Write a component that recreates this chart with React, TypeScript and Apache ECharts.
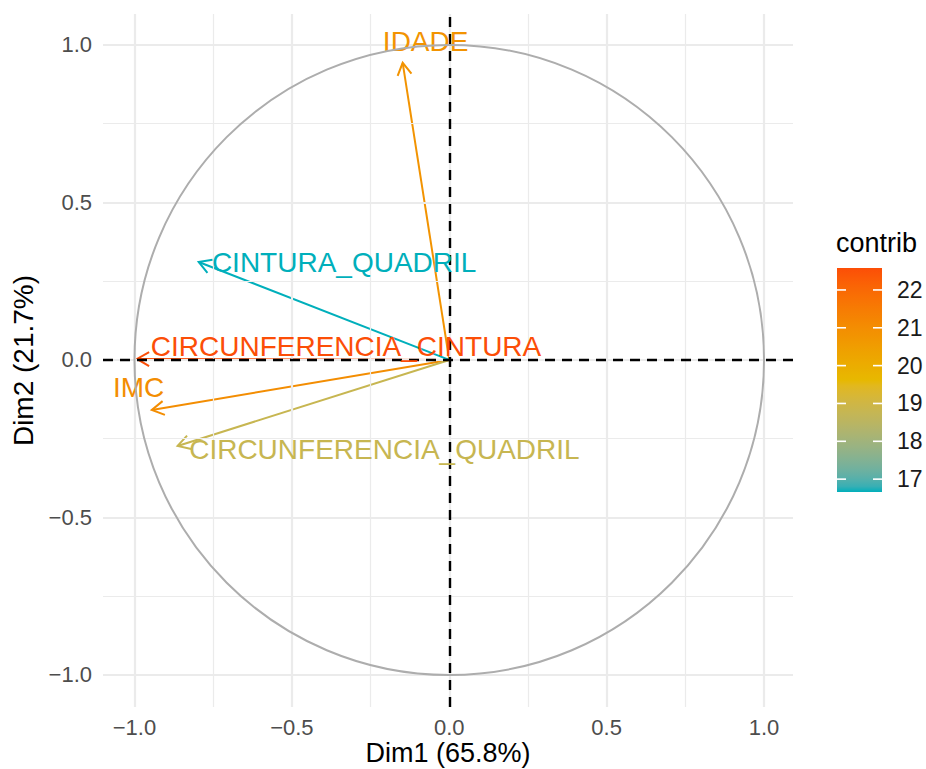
import React, { useEffect, useRef } from "react";
import * as echarts from "echarts";

// Variable correlation circle on the first two principal dimensions
const variables = [
  "IDADE",
  "CINTURA_QUADRIL",
  "CIRCUNFERENCIA_CINTURA",
  "IMC",
  "CIRCUNFERENCIA_QUADRIL",
];
const dim1 = [-0.148, -0.796, -0.992, -0.945, -0.863];
const dim2 = [0.943, 0.311, 0.003, -0.159, -0.273];
const contrib = [20.8, 16.66, 22.58, 21.0, 18.8];
// where each variable name is written
const labelDim1 = [-0.075, -0.334, -0.328, -0.987, -0.206];
const labelDim2 = [1.01, 0.308, 0.044, -0.089, -0.283];

const majorTicks = [-1, -0.5, 0, 0.5, 1];
const minorTicks = [-0.75, -0.25, 0.25, 0.75];
const legendTicks = [17, 18, 19, 20, 21, 22];
const gradientColors = ["#00AFBB", "#E7B800", "#FC4E07"];
const xTitle = "Dim1 (65.8%)";
const yTitle = "Dim2 (21.7%)";
const legendTitle = "contrib";

const FONT = "'Liberation Sans', Arial, Helvetica, sans-serif";

const fmt = (v: number) => v.toFixed(1).replace("-", "\u2212");

// --- CIELAB colour ramp (perceptual interpolation between the gradient colours) ---
const toLin = (c: number) => (c <= 0.04045 ? c / 12.92 : Math.pow((c + 0.055) / 1.055, 2.4));
const fromLin = (c: number) =>
  c <= 0.0031308 ? 12.92 * c : 1.055 * Math.pow(c, 1 / 2.4) - 0.055;
const WX = 0.95047, WY = 1.0, WZ = 1.08883;
const fLab = (t: number) => (t > 216 / 24389 ? Math.cbrt(t) : (24389 / 27 * t + 16) / 116);
const fInv = (t: number) => (t * t * t > 216 / 24389 ? t * t * t : (116 * t - 16) / (24389 / 27));

function hexToLab(hex: string): number[] {
  const r = toLin(parseInt(hex.slice(1, 3), 16) / 255);
  const g = toLin(parseInt(hex.slice(3, 5), 16) / 255);
  const b = toLin(parseInt(hex.slice(5, 7), 16) / 255);
  const X = 0.4124564 * r + 0.3575761 * g + 0.1804375 * b;
  const Y = 0.2126729 * r + 0.7151522 * g + 0.072175 * b;
  const Z = 0.0193339 * r + 0.119192 * g + 0.9503041 * b;
  const fx = fLab(X / WX), fy = fLab(Y / WY), fz = fLab(Z / WZ);
  return [116 * fy - 16, 500 * (fx - fy), 200 * (fy - fz)];
}

function labToHex(lab: number[]): string {
  const fy = (lab[0] + 16) / 116;
  const fx = fy + lab[1] / 500;
  const fz = fy - lab[2] / 200;
  const X = WX * fInv(fx), Y = WY * fInv(fy), Z = WZ * fInv(fz);
  const r = 3.2404542 * X - 1.5371385 * Y - 0.4985314 * Z;
  const g = -0.969266 * X + 1.8760108 * Y + 0.041556 * Z;
  const b = 0.0556434 * X - 0.2040259 * Y + 1.0572252 * Z;
  const h = (c: number) => {
    const v = Math.round(Math.min(1, Math.max(0, fromLin(c))) * 255);
    return v.toString(16).padStart(2, "0");
  };
  return "#" + h(r) + h(g) + h(b);
}

function labRamp(colors: string[], steps: number): string[] {
  const labs = colors.map(hexToLab);
  const out: string[] = [];
  for (let i = 0; i < steps; i++) {
    const t = (i / (steps - 1)) * (labs.length - 1);
    const k = Math.min(Math.floor(t), labs.length - 2);
    const f = t - k;
    const a = labs[k], b = labs[k + 1];
    out.push(labToHex([0, 1, 2].map((j) => a[j] + (b[j] - a[j]) * f)));
  }
  return out;
}

export default function App() {
  const ref = useRef<HTMLDivElement>(null);

  useEffect(() => {
    if (!ref.current) return;
    const chart = echarts.init(ref.current, undefined, { renderer: "svg" });

    const cMin = Math.min(...contrib);
    const cMax = Math.max(...contrib);
    const ramp = labRamp(gradientColors, 41);

    const arrowData = variables.map((n, i) => [dim1[i], dim2[i], contrib[i]]);
    const labelData = variables.map((n, i) => [labelDim1[i], labelDim2[i], contrib[i]]);

    // colour bar geometry
    const barLeft = 837;
    const barWidth = 45;
    const barTop = 268;
    const barBottom = 492;
    const valToY = (v: number) =>
      barBottom - ((v - cMin) / (cMax - cMin)) * (barBottom - barTop);

    const legendGraphics: any[] = [
      {
        type: "text",
        left: barLeft - 1,
        top: 229,
        style: { text: legendTitle, fontSize: 27, fontFamily: FONT, fill: "#000" },
      },
      {
        type: "rect",
        shape: { x: barLeft, y: barTop, width: barWidth, height: barBottom - barTop },
        style: {
          fill: new echarts.graphic.LinearGradient(
            0,
            1,
            0,
            0,
            ramp.map((c, i) => ({ offset: i / (ramp.length - 1), color: c }))
          ),
        },
      },
    ];
    legendTicks.forEach((t) => {
      const y = valToY(t);
      legendGraphics.push(
        {
          type: "line",
          shape: { x1: barLeft, y1: y, x2: barLeft + 9, y2: y },
          style: { stroke: "#fff", lineWidth: 1.6 },
        },
        {
          type: "line",
          shape: { x1: barLeft + barWidth - 9, y1: y, x2: barLeft + barWidth, y2: y },
          style: { stroke: "#fff", lineWidth: 1.6 },
        },
        {
          type: "text",
          x: barLeft + barWidth + 15,
          y: y,
          style: {
            text: String(t),
            fontSize: 23,
            fontFamily: FONT,
            fill: "#1a1a1a",
            verticalAlign: "middle",
            align: "left",
          },
        }
      );
    });

    const gridLine = (color: string, width: number) => ({
      silent: true,
      symbol: ["none", "none"],
      label: { show: false },
      lineStyle: { color, width, type: "solid" },
      emphasis: { disabled: true },
    });

    const option: any = {
      animation: false,
      backgroundColor: "#fff",
      grid: {
        left: 103,
        top: 14,
        width: 690,
        height: 693,
        containLabel: false,
        outerBoundsMode: "none",
      },
      xAxis: {
        type: "value",
        min: -1.1,
        max: 1.092,
        name: xTitle,
        nameLocation: "middle",
        nameGap: 32,
        nameMoveOverlap: false,
        nameTextStyle: { fontSize: 27, lineHeight: 28, fontFamily: FONT, color: "#000" },
        splitLine: { show: false },
        axisLine: { show: false },
        axisTick: {
          show: true,
          customValues: majorTicks,
          length: 7,
          lineStyle: { color: "#1a1a1a", width: 2 },
        },
        axisLabel: {
          customValues: majorTicks,
          formatter: (v: number) => fmt(v),
          color: "#4D4D4D",
          fontSize: 22,
          lineHeight: 22,
          fontFamily: FONT,
          margin: 9,
        },
      },
      yAxis: {
        type: "value",
        min: -1.1016,
        max: 1.098,
        name: yTitle,
        nameLocation: "middle",
        nameGap: 66,
        nameMoveOverlap: false,
        nameTextStyle: { fontSize: 28, fontFamily: FONT, color: "#000" },
        splitLine: { show: false },
        axisLine: { show: false },
        axisTick: {
          show: true,
          customValues: majorTicks,
          length: 7,
          lineStyle: { color: "#1a1a1a", width: 2 },
        },
        axisLabel: {
          customValues: majorTicks,
          formatter: (v: number) => fmt(v),
          color: "#4D4D4D",
          fontSize: 22,
          fontFamily: FONT,
          margin: 11,
        },
      },
      visualMap: {
        show: false,
        type: "continuous",
        min: cMin,
        max: cMax,
        dimension: 2,
        seriesIndex: [3, 4],
        inRange: { color: ramp },
      },
      graphic: legendGraphics,
      series: [
        // minor grid
        {
          type: "line",
          data: [],
          z: 0,
          silent: true,
          markLine: {
            ...gridLine("#EBEBEB", 1.2),
            data: [
              ...minorTicks.map((v) => ({ xAxis: v })),
              ...minorTicks.map((v) => ({ yAxis: v })),
            ],
          },
        },
        // major grid
        {
          type: "line",
          data: [],
          z: 0,
          silent: true,
          markLine: {
            ...gridLine("#EBEBEB", 2.2),
            data: [
              ...majorTicks.map((v) => ({ xAxis: v })),
              ...majorTicks.map((v) => ({ yAxis: v })),
            ],
          },
        },
        // unit circle
        {
          type: "custom",
          z: 6,
          silent: true,
          data: [[0, 0]],
          renderItem: (params: any, api: any) => {
            const c = api.coord([0, 0]);
            const rx = api.size([1, 0])[0];
            const ry = api.size([0, 1])[1];
            return {
              type: "ellipse",
              shape: { cx: c[0], cy: c[1], rx, ry },
              style: { fill: "none", stroke: "#ADADAD", lineWidth: 2 },
            };
          },
        },
        // arrows
        {
          type: "custom",
          z: 4,
          silent: true,
          data: arrowData,
          encode: { x: 0, y: 1 },
          renderItem: (params: any, api: any) => {
            const x = api.value(0);
            const y = api.value(1);
            const o = api.coord([0, 0]);
            const p = api.coord([x, y]);
            const color = api.visual("color");
            const ang = Math.atan2(p[1] - o[1], p[0] - o[0]);
            const L = 14;
            const a = Math.PI / 6;
            const b1 = [p[0] - L * Math.cos(ang - a), p[1] - L * Math.sin(ang - a)];
            const b2 = [p[0] - L * Math.cos(ang + a), p[1] - L * Math.sin(ang + a)];
            return {
              type: "group",
              children: [
                {
                  type: "line",
                  shape: { x1: o[0], y1: o[1], x2: p[0], y2: p[1] },
                  style: { stroke: color, lineWidth: 2 },
                },
                {
                  type: "polyline",
                  shape: { points: [b1, p, b2] },
                  style: { stroke: color, fill: "none", lineWidth: 2 },
                },
              ],
            };
          },
        },
        // variable names
        {
          type: "custom",
          z: 5,
          silent: true,
          data: labelData,
          encode: { x: 0, y: 1 },
          renderItem: (params: any, api: any) => {
            const p = api.coord([api.value(0), api.value(1)]);
            return {
              type: "text",
              x: p[0],
              y: p[1],
              style: {
                text: variables[params.dataIndex],
                fill: api.visual("color"),
                fontSize: 28,
                fontFamily: FONT,
                align: "center",
                verticalAlign: "middle",
              },
            };
          },
        },
        // dashed reference axes through the origin
        {
          type: "line",
          data: [],
          z: 8,
          silent: true,
          markLine: {
            silent: true,
            symbol: ["none", "none"],
            label: { show: false },
            lineStyle: { color: "#000", width: 2.4, type: [10, 7] },
            data: [{ xAxis: 0 }, { yAxis: 0 }],
          },
        },
      ],
    };

    chart.setOption(option);
    return () => chart.dispose();
  }, []);

  return (
    <div
      ref={ref}
      style={{ position: "fixed", left: 0, top: 0, width: 926, height: 769, background: "#fff" }}
    />
  );
}
